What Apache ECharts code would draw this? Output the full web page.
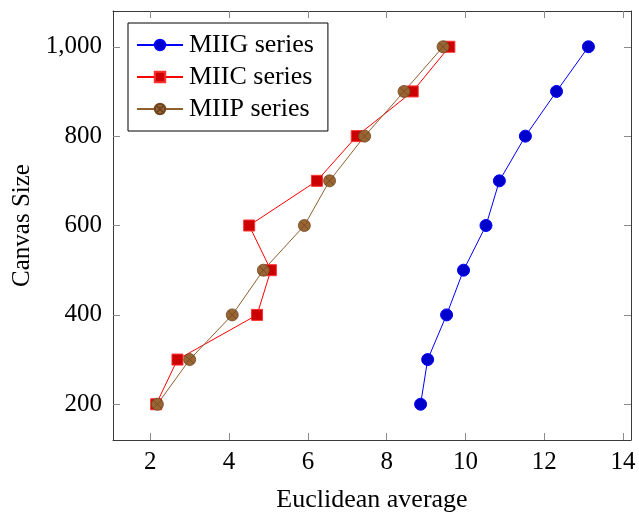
<!DOCTYPE html>
<html>
<head>
<meta charset="utf-8">
<script src="https://cdn.jsdelivr.net/npm/echarts@6/dist/echarts.min.js"></script>
<style>
html,body{margin:0;padding:0;background:#fff;}
#chart{width:639px;height:514px;}
</style>
</head>
<body>
<div id="chart"></div>
<script>
// ---- data ----
const canvasSizes = [200, 300, 400, 500, 600, 700, 800, 900, 1000];
const miigValues  = [8.86, 9.04, 9.52, 9.95, 10.52, 10.86, 11.52, 12.31, 13.12];
const miicValues  = [2.15, 2.69, 4.71, 5.06, 4.51, 6.23, 7.24, 8.66, 9.59];
const miipValues  = [2.18, 3.00, 4.08, 4.87, 5.91, 6.55, 7.44, 8.44, 9.43];
const seriesNames = ['MIIG series', 'MIIC series', 'MIIP series'];
const xTicks = [2, 4, 6, 8, 10, 12, 14];
const yTicks = [200, 400, 600, 800, 1000];
const xTitle = 'Euclidean average';
const yTitle = 'Canvas Size';

const pairs = vals => vals.map((v, i) => [v, canvasSizes[i]]);
const FONT = 'Liberation Serif';
const otimes = 'path://M0,10 A10,10 0 1,1 20,10 A10,10 0 1,1 0,10 Z M2.93,2.93 L17.07,17.07 M17.07,2.93 L2.93,17.07';

const xMin = 1.054, xMax = 14.2, yMin = 120, yMax = 1080;
const frameLine = {show: true, lineStyle: {color: '#3a3a3a', width: 1}};
const tickStyle = {color: '#8a8a8a', width: 1};

const chart = echarts.init(document.getElementById('chart'), null, {renderer: 'canvas'});
chart.setOption({
  backgroundColor: '#ffffff',
  animation: false,
  textStyle: {fontFamily: FONT},
  grid: {left: 113, right: 8, top: 11, bottom: 74, containLabel: false, outerBoundsMode: 'none'},
  legend: {
    left: 128, top: 23,
    orient: 'vertical',
    data: seriesNames,
    backgroundColor: '#fff',
    borderColor: '#000', borderWidth: 1,
    padding: [9, 14, 9, 8],
    itemGap: 6,
    itemWidth: 46, itemHeight: 13,
    textStyle: {fontFamily: FONT, fontSize: 26, color: '#000', padding: [0, 0, 0, 1]}
  },
  xAxis: [{
    type: 'value', position: 'bottom', min: xMin, max: xMax,
    name: xTitle, nameLocation: 'middle', nameGap: 47,
    nameTextStyle: {fontFamily: FONT, fontSize: 26, color: '#000'},
    axisLine: frameLine,
    axisTick: {show: true, inside: true, length: 7, lineStyle: tickStyle, customValues: xTicks},
    axisLabel: {show: true, margin: 10, fontFamily: FONT, fontSize: 25, color: '#000', customValues: xTicks},
    splitLine: {show: false}
  }, {
    type: 'value', position: 'top', min: xMin, max: xMax,
    axisLine: frameLine,
    axisTick: {show: true, inside: true, length: 7, lineStyle: tickStyle, customValues: xTicks},
    axisLabel: {show: false},
    splitLine: {show: false}
  }],
  yAxis: [{
    type: 'value', position: 'left', min: yMin, max: yMax,
    name: yTitle, nameLocation: 'middle', nameGap: 76,
    nameTextStyle: {fontFamily: FONT, fontSize: 25, color: '#000'},
    axisLine: frameLine,
    axisTick: {show: true, inside: true, length: 7, lineStyle: tickStyle, customValues: yTicks},
    axisLabel: {show: true, margin: 11, fontFamily: FONT, fontSize: 25, color: '#000',
      customValues: yTicks,
      formatter: v => v.toLocaleString('en-US')},
    splitLine: {show: false}
  }, {
    type: 'value', position: 'right', min: yMin, max: yMax,
    axisLine: frameLine,
    axisTick: {show: true, inside: true, length: 7, lineStyle: tickStyle, customValues: yTicks},
    axisLabel: {show: false},
    splitLine: {show: false}
  }],
  series: [{
    name: seriesNames[0], type: 'line', data: pairs(miigValues),
    xAxisIndex: 0, yAxisIndex: 0,
    symbol: 'circle', symbolSize: 12,
    lineStyle: {color: '#0000ff', width: 1},
    itemStyle: {color: '#0000cc', borderColor: '#0000ff', borderWidth: 1}
  }, {
    name: seriesNames[1], type: 'line', data: pairs(miicValues),
    xAxisIndex: 0, yAxisIndex: 0,
    symbol: 'rect', symbolSize: 11,
    lineStyle: {color: '#ff0000', width: 1},
    itemStyle: {color: '#cc0000', borderColor: '#ff3030', borderWidth: 1}
  }, {
    name: seriesNames[2], type: 'line', data: pairs(miipValues),
    xAxisIndex: 0, yAxisIndex: 0,
    symbol: otimes, symbolSize: 12,
    lineStyle: {color: '#8f5f30', width: 1},
    itemStyle: {color: '#996633', borderColor: '#6e4520', borderWidth: 0.8}
  }]
});
</script>
</body>
</html>
